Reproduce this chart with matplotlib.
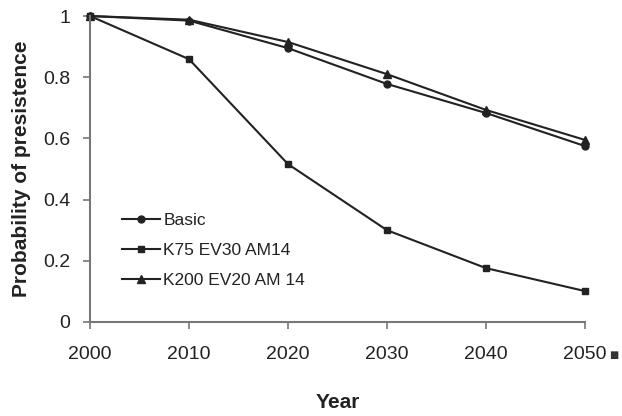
import matplotlib
matplotlib.use("Agg")
import matplotlib.pyplot as plt

years = [2000, 2010, 2020, 2030, 2040, 2050]
basic = [1.0, 0.985, 0.895, 0.778, 0.683, 0.575]
k75 = [1.0, 0.859, 0.516, 0.300, 0.176, 0.101]
k200 = [1.0, 0.988, 0.915, 0.810, 0.693, 0.595]
labels = ["Basic", "K75 EV30 AM14", "K200 EV20 AM 14"]
yticks = [0, 0.2, 0.4, 0.6, 0.8, 1]
ytick_labels = ["0", "0.2", "0.4", "0.6", "0.8", "1"]

plt.rcParams['font.family'] = ['Liberation Sans', 'DejaVu Sans']

fig = plt.figure(figsize=(6.22, 4.16), dpi=100)
ax = fig.add_axes([0.1447, 0.226, 0.7958, 0.7355])

col = '#222222'
ax.plot(years, basic, marker='o', ms=5, color=col, lw=1.5, label=labels[0], clip_on=False)
ax.plot(years, k75, marker='s', ms=5, color=col, lw=1.5, label=labels[1], clip_on=False)
ax.plot(years, k200, marker='^', ms=6, color=col, lw=1.5, label=labels[2], clip_on=False)

ax.set_xlim(2000, 2050)
ax.set_ylim(0, 1)
ax.set_xticks(years)
ax.set_yticks(yticks)
ax.set_yticklabels(ytick_labels)
for s in ['top', 'right']:
    ax.spines[s].set_visible(False)
for s in ['left', 'bottom']:
    ax.spines[s].set_color('#777777')
    ax.spines[s].set_linewidth(1.5)
ax.tick_params(axis='both', colors='#777777', labelcolor='#222222', labelsize=14, length=5, width=1.2)
ax.tick_params(axis='x', pad=12)
ax.tick_params(axis='y', pad=9)

ax.set_ylabel("Probability of presistence", fontsize=15, fontweight='bold', color='#222222', labelpad=9)
ax.set_xlabel("Year", fontsize=15, fontweight='bold', color='#222222', labelpad=22)

leg = ax.legend(loc='upper left', bbox_to_anchor=(0.05, 0.38), frameon=False, fontsize=12.5,
                handlelength=2.2, handletextpad=0.2, labelspacing=0.85, borderaxespad=0)
for t in leg.get_texts():
    t.set_color('#222222')

fig.text(0.986, 0.147, "■", fontsize=7, color='#333333', ha='center', va='center', family='DejaVu Sans')

fig.savefig("out.png", dpi=100)
